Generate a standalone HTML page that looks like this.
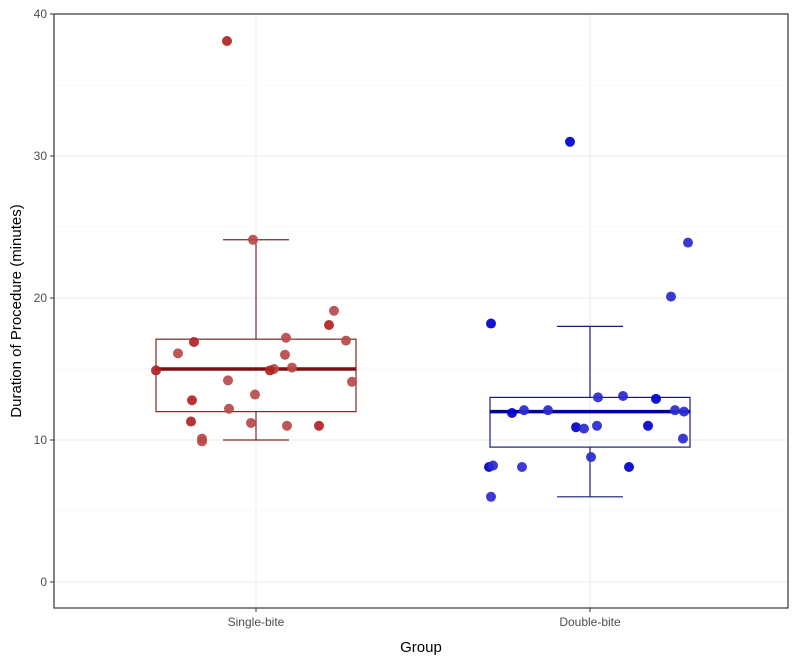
<!DOCTYPE html>
<html><head><meta charset="utf-8"><style>
body{margin:0;background:#fff;}
svg{display:block;font-family:"Liberation Sans",sans-serif;}
</style></head><body>
<svg id="chart" width="800" height="664"></svg>
<script>
const categories = ["Single-bite","Double-bite"];
const yTicks = [0,10,20,30,40];
const singleValues = [38.1,24.1,19.1,18.1,17.0,17.2,16.9,16.1,16.0,14.9,15.1,15.0,14.9,14.2,14.1,12.8,13.2,12.2,11.3,11.2,11.0,11.0,10.1,9.9];
const singleJitter = [-29,-3,78,73,90,30,-62,-78,29,-100,36,18,14,-28,96,-64,-1,-27,-65,-5,31,63,-54,-54];
const doubleValues = [31.0,23.9,20.1,18.2,13.0,13.1,12.9,12.1,12.1,11.9,12.1,12.0,10.9,10.8,11.0,11.0,10.1,8.8,8.1,8.2,8.1,8.1,6.0];
const doubleJitter = [-20,98,81,-99,8,33,66,-66,-42,-78,85,94,-14,-6,7,58,93,1,-101,-97,-68,39,-99];
const boxMin = [10.0,6.0];
const boxQ1 = [12.0,9.5];
const boxMed = [15.0,12.0];
const boxQ3 = [17.1,13.0];
const boxMax = [24.1,18.0];

const L=54,R=788,T=14,B=608;
const y = v => 582 - v*14.2;
const x = i => [256,590][i];
const NS="http://www.w3.org/2000/svg";
const svg=document.getElementById('chart');
function el(tag,attrs,parent){const e=document.createElementNS(NS,tag);for(const k in attrs)e.setAttribute(k,attrs[k]);(parent||svg).appendChild(e);return e;}

// grid
for(let v=-5;v<=40;v+=5){
  if(y(v)<T||y(v)>B)continue;
  const g=el('line',{x1:L,x2:R,y1:y(v),y2:y(v),stroke:v%10===0?'#ebebeb':'#f4f4f4','stroke-width':v%10===0?1.1:0.6});
  
  
}
categories.forEach((c,i)=>{
  const g=el('line',{x1:x(i),x2:x(i),y1:T,y2:B,stroke:'#ebebeb','stroke-width':1.1});
  
  
});

const cols=[['#8b1a1a','#b22222'],['#00008b','#0000cd']];
// boxes
categories.forEach((c,i)=>{
  const col=i===0?'#7a2a2a':'#1a1a7a';
  const g=el('g',{});
  
  
  el('line',{x1:x(i),x2:x(i),y1:y(boxQ3[i]),y2:y(boxMax[i]),stroke:col,'stroke-width':1.2},g);
  el('line',{x1:x(i),x2:x(i),y1:y(boxQ1[i]),y2:y(boxMin[i]),stroke:col,'stroke-width':1.2},g);
  el('line',{x1:x(i)-33,x2:x(i)+33,y1:y(boxMax[i]),y2:y(boxMax[i]),stroke:col,'stroke-width':1.2},g);
  el('line',{x1:x(i)-33,x2:x(i)+33,y1:y(boxMin[i]),y2:y(boxMin[i]),stroke:col,'stroke-width':1.2},g);
  el('rect',{x:x(i)-100,y:y(boxQ3[i]),width:200,height:y(boxQ1[i])-y(boxQ3[i]),fill:'none',stroke:col,'stroke-width':1.2},g);
  el('line',{x1:x(i)-100,x2:x(i)+100,y1:y(boxMed[i]),y2:y(boxMed[i]),stroke:i===0?'#7a1010':'#0000a0','stroke-width':3.5},g);
});
// points
[[singleValues,singleJitter],[doubleValues,doubleJitter]].forEach(([vals,jit],i)=>{
  vals.forEach((v,k)=>{
    const p=el('circle',{cx:x(i)+jit[k],cy:y(v),r:5,fill:i===0?(k%3===0?'#b22222':'#b94a4a'):(k%3===0?'#0000cd':'#2a2ad0'),opacity:0.92});
    
    
  });
});
// border
const bd=el('rect',{x:L,y:T,width:R-L,height:B-T,fill:'none',stroke:'#333','stroke-width':1.2});


// y ticks
yTicks.forEach(v=>{
  el('line',{x1:L-4,x2:L,y1:y(v),y2:y(v),stroke:'#333'});
  const t=el('text',{x:L-7,y:y(v)+4,'text-anchor':'end','font-size':12,fill:'#4d4d4d'});
  t.textContent=v;
  
  
});
categories.forEach((c,i)=>{
  el('line',{x1:x(i),x2:x(i),y1:B,y2:B+4,stroke:'#333'});
  const t=el('text',{x:x(i),y:B+18,'text-anchor':'middle','font-size':12,fill:'#4d4d4d'});
  t.textContent=c;
  
  
});
const xt=el('text',{x:(L+R)/2,y:652,'text-anchor':'middle','font-size':15,fill:'#000'});
xt.textContent='Group';


const yt=el('text',{x:0,y:0,'text-anchor':'middle','font-size':15,fill:'#000',transform:'translate(21,311) rotate(-90)'});
yt.textContent='Duration of Procedure (minutes)';


</script>
</body></html>
